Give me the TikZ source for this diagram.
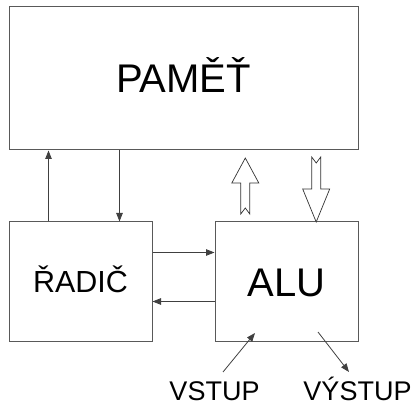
\documentclass[tikz,border=0pt]{standalone}
\usepackage{fontspec}
\setmainfont{Liberation Sans}
\usetikzlibrary{arrows.meta}
\tikzset{
  unitbox/.style={draw=black!65, line width=1pt, rectangle, inner sep=0pt, anchor=center},
  bigtxt/.style={font=\fontsize{40}{40}\selectfont, text height=29pt, text depth=0pt},
  midtxt/.style={font=\fontsize{30.5}{30.5}\selectfont, text height=22pt, text depth=0pt},
  lbltxt/.style={font=\fontsize{27}{27}\selectfont, inner sep=0pt, text depth=0pt, anchor=base},
  conn/.style={draw=black!75, line width=0.8pt, -{Triangle[length=8.5pt,width=6.5pt]}},
  hollow/.style={draw=black!80, line width=0.7pt, fill=white, line join=miter},
}
\begin{document}
\begin{tikzpicture}[x=1pt,y=1pt]
\useasboundingbox (0,0) rectangle (415,-406);
\node[unitbox, bigtxt, minimum width=349pt, minimum height=143pt] (pamet) at (183.5,-78.5) {PAMĚŤ\hspace{14pt}};
\node[unitbox, midtxt, minimum width=143pt, minimum height=119pt] (radic) at (80.5,-281.5) {ŘADIČ};
\node[unitbox, bigtxt, minimum width=143pt, minimum height=119pt] (alu) at (286.5,-281.5) {ALU};
\node[lbltxt] (vstup) at (214.5,-400.5) {VSTUP};
\node[lbltxt] (vystup) at (357.5,-400.5) {VÝSTUP};
% radic <-> pamet
\draw[conn] ([xshift=40pt]radic.north west) -- ([xshift=40pt]radic.north west |- pamet.south);
\draw[conn] ([xshift=111pt]pamet.south west) -- ([xshift=111pt]pamet.south west |- radic.north);
% radic <-> alu
\draw[conn] ([yshift=-31pt]radic.north east) -- ([yshift=-31pt]radic.north east -| alu.west);
\draw[conn] ([yshift=-80pt]alu.north west) -- ([yshift=-80pt]alu.north west -| radic.east);
% input / output
\coordinate (inTail) at (223,-372);
\coordinate (inTip) at (255,-333);
\coordinate (outTail) at (318,-332);
\coordinate (outTip) at (349,-372);
\draw[conn] (inTail) -- (inTip);
\draw[conn] (outTail) -- (outTip);
% hollow arrows between alu and pamet
\draw[hollow] (245.3,-158) -- (258.8,-183) -- (249.8,-183) -- (249.8,-214) -- (245.3,-208) -- (240.8,-214) -- (240.8,-183) -- (231.8,-183) -- cycle;
\draw[hollow] (316.2,-222) -- (329.7,-189) -- (320.7,-189) -- (320.7,-157) -- (316.2,-163) -- (311.7,-157) -- (311.7,-189) -- (302.7,-189) -- cycle;
\end{tikzpicture}
\end{document}
